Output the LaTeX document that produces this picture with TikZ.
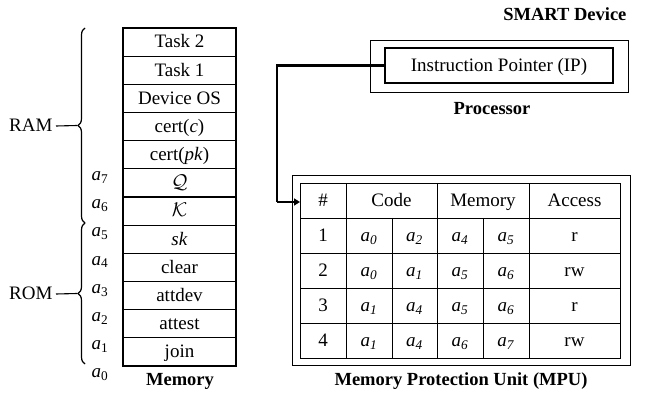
\documentclass[tikz,border=0pt]{standalone}
\usepackage{fontspec}
\setmainfont{Liberation Serif}
\usetikzlibrary{arrows.meta,decorations.pathreplacing}
\newcommand{\addrsub}[1]{\textit{a}\textsubscript{\textit{#1}}}
\newcommand{\calsym}[1]{\scalebox{1.15}{$\mathcal{#1}$}}
\begin{document}
\begin{tikzpicture}[x=1pt,y=-1pt,
  every node/.style={font=\fontsize{19}{22}\selectfont,text height=15.5pt,text depth=4pt},
  memcell/.style={draw,line width=1.1pt,minimum width=113pt,minimum height=28.17pt,inner sep=0pt},
  boxline/.style={draw,line width=1.1pt,inner sep=0pt},
  tline/.style={line width=0.9pt},
  caption/.style={font=\fontsize{18.5}{22}\selectfont\bfseries},
  bracestyle/.style={decorate,decoration={brace,amplitude=7pt},line width=1.2pt},
  conn/.style={line width=2.2pt,-{Triangle[length=6pt,width=7pt]}}]
\useasboundingbox (0,0) rectangle (646,393);
% memory column
\foreach \t [count=\i from 0] in {Task 2,Task 1,Device OS,cert(\textit{c}),cert(\textit{pk}),\calsym{Q},\calsym{K},\textit{sk},clear,attdev,attest,join}
  \node[memcell] (m\i) at (179.5,{28+28.17*(\i+0.5)}) {\t};
\node[caption] (memlbl) at (180,380) {Memory};
% address labels
\foreach \k/\yy in {7/168.8,6/197,5/225.2,4/253.4,3/281.5,2/309.7,1/337.9,0/366}
  \node (addr\k) at (100,\yy+6) {\textit{a}\textsubscript{\k}};
% braces
\draw[bracestyle] (85,223) -- (85,28);
\draw[bracestyle] (85,364) -- (85,223);
\coordinate (ramtip) at (77,125.5);
\coordinate (romtip) at (77,293.5);
\node[anchor=east] (ram) at (56,126) {RAM};
\node[anchor=east] (rom) at (56,294) {ROM};
\draw[line width=1.1pt] (ram.east) -- (ramtip);
\draw[line width=1.1pt] (rom.east) -- (romtip);
% processor
\node[caption,anchor=east] (smart) at (630,15) {SMART Device};
\node[boxline,minimum width=258pt,minimum height=52pt,anchor=north west] (proc) at (370,40) {};
\node[boxline,minimum width=228pt,minimum height=35pt] (ip) at (499,65.5) {Instruction Pointer (IP)};
\node[caption] (proclbl) at (492,109) {Processor};
% MPU
\node[boxline,minimum width=338pt,minimum height=190pt,anchor=north west] (mpu) at (292,175) {};
\node[draw,line width=1.3pt,inner sep=0pt,minimum width=320pt,minimum height=175pt,anchor=north west] (tab) at (300,183) {};
\foreach \yy in {218,253,288,323} \draw[tline] (300,\yy) -- (620,\yy);
\foreach \xx in {346,437,529} \draw[tline] (\xx,183) -- (\xx,358);
\foreach \xx in {392,483} \draw[tline] (\xx,218) -- (\xx,358);
\node (h1) at (323,200.5) {\#};
\node (h2) at (391.5,200.5) {Code};
\node (h3) at (483,200.5) {Memory};
\node (h4) at (574.5,200.5) {Access};
\foreach \r/\ca/\cb/\ma/\mb/\acc [count=\j] in {1/0/2/4/5/r,2/0/1/5/6/rw,3/1/4/5/6/r,4/1/4/6/7/rw}{
  \node (r\j n) at (323,{200.5+35*\j}) {\r};
  \node (r\j a) at (369,{200.5+35*\j}) {\addrsub{\ca}};
  \node (r\j b) at (414.5,{200.5+35*\j}) {\addrsub{\cb}};
  \node (r\j c) at (460,{200.5+35*\j}) {\addrsub{\ma}};
  \node (r\j d) at (506,{200.5+35*\j}) {\addrsub{\mb}};
  \node (r\j e) at (574.5,{200.5+35*\j}) {\acc};
}
\node[caption] (mpulbl) at (461,380) {Memory Protection Unit (MPU)};
% connector
\coordinate (bend) at (277,202);
\draw[line width=2.2pt] (ip.west) -| (bend);
\draw[conn] (bend) -- (tab.west |- bend);
\end{tikzpicture}
\end{document}
